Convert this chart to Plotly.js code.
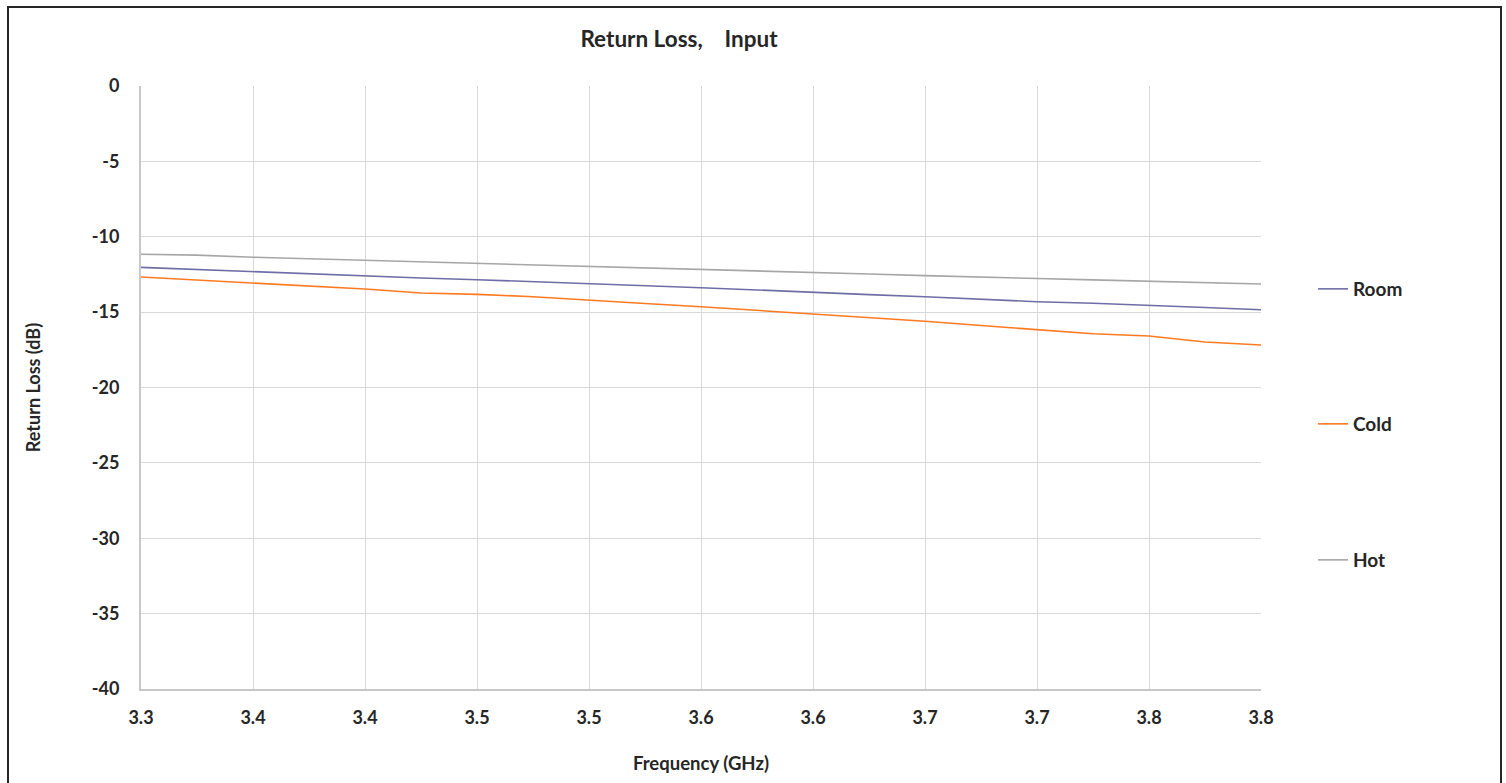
<!DOCTYPE html>
<html>
<head>
<meta charset="utf-8">
<script src="https://cdn.plot.ly/plotly-3.0.1.min.js"></script>
<style>
  html, body { margin: 0; padding: 0; background: #fff; }
  #chart { position: absolute; left: 0; top: 0; width: 1506px; height: 783px; }
  #frame { position: absolute; left: 7px; top: 6px; width: 1491px; height: 790px;
           border: 2px solid #262626; pointer-events: none; }
</style>
</head>
<body>
<div id="chart"></div>
<div id="frame"></div>
<script>
// Frequency samples (GHz)
const freq = [3.300, 3.325, 3.350, 3.375, 3.400, 3.425, 3.450, 3.475, 3.500, 3.525,
              3.550, 3.575, 3.600, 3.625, 3.650, 3.675, 3.700, 3.725, 3.750, 3.775, 3.800];
// Return loss (dB)
const room = [-12.03, -12.17, -12.34, -12.47, -12.62, -12.74, -12.85, -12.97, -13.09, -13.23,
              -13.38, -13.53, -13.70, -13.84, -13.98, -14.16, -14.31, -14.41, -14.53, -14.69, -14.84];
const cold = [-12.67, -12.86, -13.05, -13.25, -13.47, -13.73, -13.82, -13.98, -14.22, -14.43,
              -14.64, -14.87, -15.10, -15.36, -15.61, -15.89, -16.14, -16.43, -16.58, -16.98, -17.18];
const hot  = [-11.16, -11.22, -11.36, -11.46, -11.56, -11.64, -11.72, -11.82, -11.92, -12.03,
              -12.14, -12.25, -12.36, -12.47, -12.58, -12.70, -12.77, -12.86, -12.94, -13.03, -13.13];

const xTickVals = [3.30, 3.35, 3.40, 3.45, 3.50, 3.55, 3.60, 3.65, 3.70, 3.75, 3.80];
const xTickText = ['3.3', '3.4', '3.4', '3.5', '3.5', '3.6', '3.6', '3.7', '3.7', '3.8', '3.8'];
const yTickVals = [0, -5, -10, -15, -20, -25, -30, -35, -40];
const yTickText = ['0', '-5', '-10', '-15', '-20', '-25', '-30', '-35', '-40'];

const FONT = 'Lato, "Open Sans", "DejaVu Sans", sans-serif';
const TXT = '#262626';

// plot area in pixels (for placing paper-referenced items)
const PL = 141, PR = 1261, PT = 86, PB = 689;
const px2x = p => (p - PL) / (PR - PL);
const py2y = p => (PB - p) / (PB - PT);

const traces = [
  { x: freq, y: room, name: 'Room', type: 'scatter', mode: 'lines',
    line: { color: '#6E6EA6', width: 1.6 }, legend: 'legend' },
  { x: freq, y: cold, name: 'Cold', type: 'scatter', mode: 'lines',
    line: { color: '#FF7A21', width: 1.6 }, legend: 'legend2' },
  { x: freq, y: hot, name: 'Hot', type: 'scatter', mode: 'lines',
    line: { color: '#A6A6A6', width: 1.6 }, legend: 'legend3' }
];

const legendBase = {
  xref: 'paper', yref: 'paper', xanchor: 'left', yanchor: 'middle',
  bgcolor: 'rgba(0,0,0,0)', borderwidth: 0,
  font: { family: FONT, size: 19, color: TXT, weight: 'bold' },
  itemwidth: 30
};

const layout = {
  width: 1506, height: 783,
  paper_bgcolor: '#ffffff', plot_bgcolor: '#ffffff',
  margin: { l: PL, r: 1506 - PR, t: PT, b: 783 - PB },
  showlegend: true,
  title: {
    text: 'Return Loss,\u00a0\u00a0\u00a0 Input',
    x: px2x(679), xref: 'paper', xanchor: 'center',
    y: 1 - 39 / 783, yref: 'container', yanchor: 'middle',
    font: { family: FONT, size: 22.5, color: TXT, weight: 'bold' }
  },
  xaxis: {
    range: [3.3, 3.8],
    tickmode: 'array', tickvals: xTickVals, ticktext: xTickText,
    showgrid: true, gridcolor: '#D9D9D9', gridwidth: 1,
    showline: true, linecolor: '#C8C8C8', linewidth: 2,
    zeroline: false, ticks: '',
    ticklabelstandoff: 11,
    tickfont: { family: FONT, size: 18, color: TXT, weight: 'bold' },
    title: { text: 'Frequency (GHz)', standoff: 30,
             font: { family: FONT, size: 18.5, color: TXT, weight: 'bold' } }
  },
  yaxis: {
    range: [-40, 0],
    tickmode: 'array', tickvals: yTickVals, ticktext: yTickText,
    showgrid: true, gridcolor: '#D9D9D9', gridwidth: 1,
    showline: true, linecolor: '#C8C8C8', linewidth: 2,
    zeroline: false, ticks: '',
    ticklabelstandoff: 16,
    tickfont: { family: FONT, size: 18, color: TXT, weight: 'bold' },
    title: { text: 'Return Loss (dB)', standoff: 46,
             font: { family: FONT, size: 18, color: TXT, weight: 'bold' } }
  },
  legend:  Object.assign({}, legendBase, { x: px2x(1313), y: py2y(289) }),
  legend2: Object.assign({}, legendBase, { x: px2x(1313), y: py2y(424) }),
  legend3: Object.assign({}, legendBase, { x: px2x(1313), y: py2y(560) })
};

Plotly.newPlot('chart', traces, layout, { displayModeBar: false, staticPlot: true });
</script>
</body>
</html>
